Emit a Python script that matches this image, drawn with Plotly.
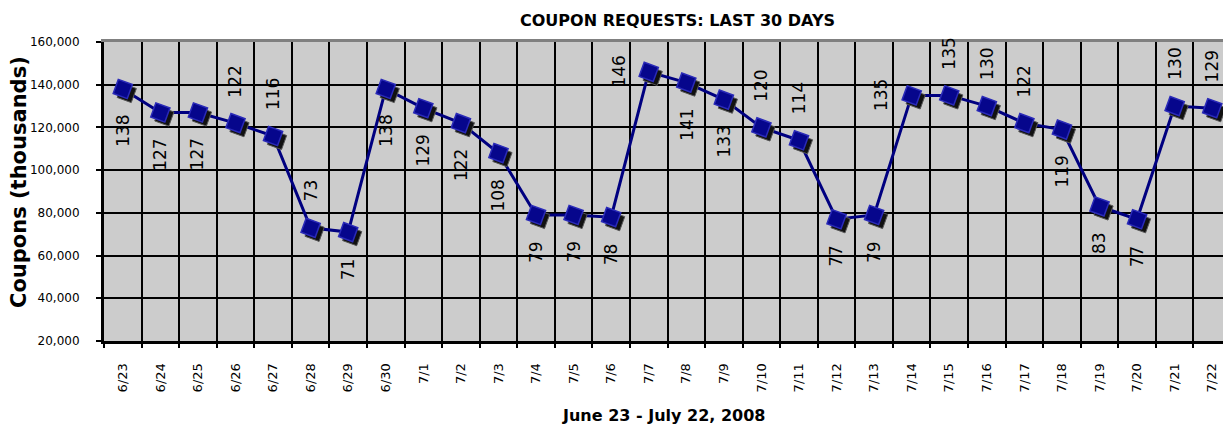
import plotly.graph_objects as go

# ---------------- data ----------------
dates = ["6/23", "6/24", "6/25", "6/26", "6/27", "6/28", "6/29", "6/30",
         "7/1", "7/2", "7/3", "7/4", "7/5", "7/6", "7/7", "7/8", "7/9", "7/10",
         "7/11", "7/12", "7/13", "7/14", "7/15", "7/16", "7/17", "7/18", "7/19",
         "7/20", "7/21", "7/22"]
coupons = [138000, 127000, 127000, 122000, 116000, 73000, 71000, 138000,
           129000, 122000, 108000, 79000, 79000, 78000, 146000, 141000, 133000,
           120000, 114000, 77000, 79000, 135000, 135000, 130000, 122000, 119000,
           83000, 77000, 130000, 129000]
label_pos = ["below", "below", "below", "above", "above", "above", "below", "below",
             "below", "below", "below", "below", "below", "below", "left", "below",
             "below", "above", "above", "below", "below", "left", "above", "above",
             "above", "below", "below", "below", "above", "above"]
y_ticks = [20000, 40000, 60000, 80000, 100000, 120000, 140000, 160000]

title_text = "COUPON REQUESTS: LAST 30 DAYS"
x_title = "June 23 - July 22, 2008"
y_title = "Coupons (thousands)"

FONT = "DejaVu Sans"
OFF = 8                     # page body margin of the html document
W, H = 1231 - OFF, 429 - OFF
# plot area in page pixels: x 104..1231, y 42..341
ML, MR, MT, MB = 104 - OFF, 0, 42 - OFF, H - (341 - OFF)
PW, PH = W - ML - MR, H - MT - MB
XR = [-0.5, len(dates) - 0.5]
YR = [20000, 160000]
px_per_cat = PW / len(dates)
px_per_val = PH / (YR[1] - YR[0])
SHX, SHY = 4 / px_per_cat, 4 / px_per_val  # marker shadow offset (4px)


def px(xp):   # page x pixel -> paper x
    return (xp - OFF - ML) / PW


def py(yp):   # page y pixel -> paper y
    return (H - MB - (yp - OFF)) / PH


fig = go.Figure()

# connecting line (base axes)
fig.add_trace(go.Scatter(x=dates, y=coupons, mode="lines",
                         line=dict(color="#000080", width=3),
                         xaxis="x", yaxis="y", hoverinfo="skip", showlegend=False))
# marker shadows (overlay axes shifted by a few pixels)
fig.add_trace(go.Scatter(x=dates, y=coupons, mode="markers",
                         marker=dict(symbol="square", size=15, angle=20,
                                     color="#111111", line=dict(color="#555555", width=1)),
                         xaxis="x2", yaxis="y2", hoverinfo="skip", showlegend=False))
# markers
fig.add_trace(go.Scatter(x=dates, y=coupons, mode="markers",
                         marker=dict(symbol="square", size=15, angle=20,
                                     color="#06068C", line=dict(color="#2A2AB8", width=1.5)),
                         xaxis="x3", yaxis="y3", showlegend=False))

# data labels
for d, v, p in zip(dates, coupons, label_pos):
    a = dict(x=d, y=v, xref="x", yref="y", text=str(round(v / 1000)),
             textangle=-90, showarrow=False,
             font=dict(family=FONT, size=17, color="#000000"))
    if p == "above":
        a.update(xanchor="center", yanchor="bottom", yshift=24)
    elif p == "below":
        a.update(xanchor="center", yanchor="top", yshift=-24)
    else:
        a.update(xanchor="right", yanchor="middle", xshift=-18)
    fig.add_annotation(**a)

# titles
fig.add_annotation(text=title_text, xref="paper", yref="paper",
                   x=px(677), y=py(20), xanchor="center", yanchor="middle",
                   showarrow=False,
                   font=dict(family=FONT, size=16, color="#000000", weight="bold"))
fig.add_annotation(text=x_title, xref="paper", yref="paper",
                   x=px(663), y=py(415), xanchor="center", yanchor="middle",
                   showarrow=False,
                   font=dict(family=FONT, size=16, color="#000000", weight="bold"))
fig.add_annotation(text=y_title, xref="paper", yref="paper", textangle=-90,
                   x=px(19), y=py(182), xanchor="center", yanchor="middle",
                   showarrow=False,
                   font=dict(family=FONT, size=21, color="#000000", weight="bold"))

fig.update_layout(
    width=W, height=H,
    margin=dict(l=ML, r=MR, t=MT, b=MB, autoexpand=False),
    paper_bgcolor="#FFFFFF", plot_bgcolor="#CCCCCC",
    showlegend=False,
    xaxis=dict(type="category", categoryorder="array", categoryarray=dates,
               range=XR, tickson="boundaries", showgrid=True, gridcolor="#000000",
               gridwidth=2, showline=True, linecolor="#000000", linewidth=3,
               ticks="outside", ticklen=4, tickwidth=2, tickcolor="#000000",
               tickangle=-90, ticklabelstandoff=14,
               tickfont=dict(family=FONT, size=13, color="#000000"),
               zeroline=False, fixedrange=True),
    yaxis=dict(range=YR, tickvals=y_ticks, tickformat=",", showgrid=True,
               gridcolor="#000000", gridwidth=2, showline=True, linecolor="#000000",
               linewidth=3, ticks="outside", ticklen=5, tickwidth=2,
               tickcolor="#000000", ticklabelstandoff=14,
               tickfont=dict(family=FONT, size=12, color="#000000"),
               zeroline=False, fixedrange=True),
    xaxis2=dict(type="category", categoryorder="array", categoryarray=dates,
                overlaying="x", range=[XR[0] - SHX, XR[1] - SHX], visible=False),
    yaxis2=dict(overlaying="y", range=[YR[0] + SHY, YR[1] + SHY], visible=False),
    xaxis3=dict(type="category", categoryorder="array", categoryarray=dates,
                overlaying="x", range=XR, side="top", showline=True,
                linecolor="#808080", linewidth=3, showgrid=False,
                showticklabels=False, ticks="", zeroline=False),
    yaxis3=dict(overlaying="y", range=YR, visible=False),
)

fig.write_html("out.html")
